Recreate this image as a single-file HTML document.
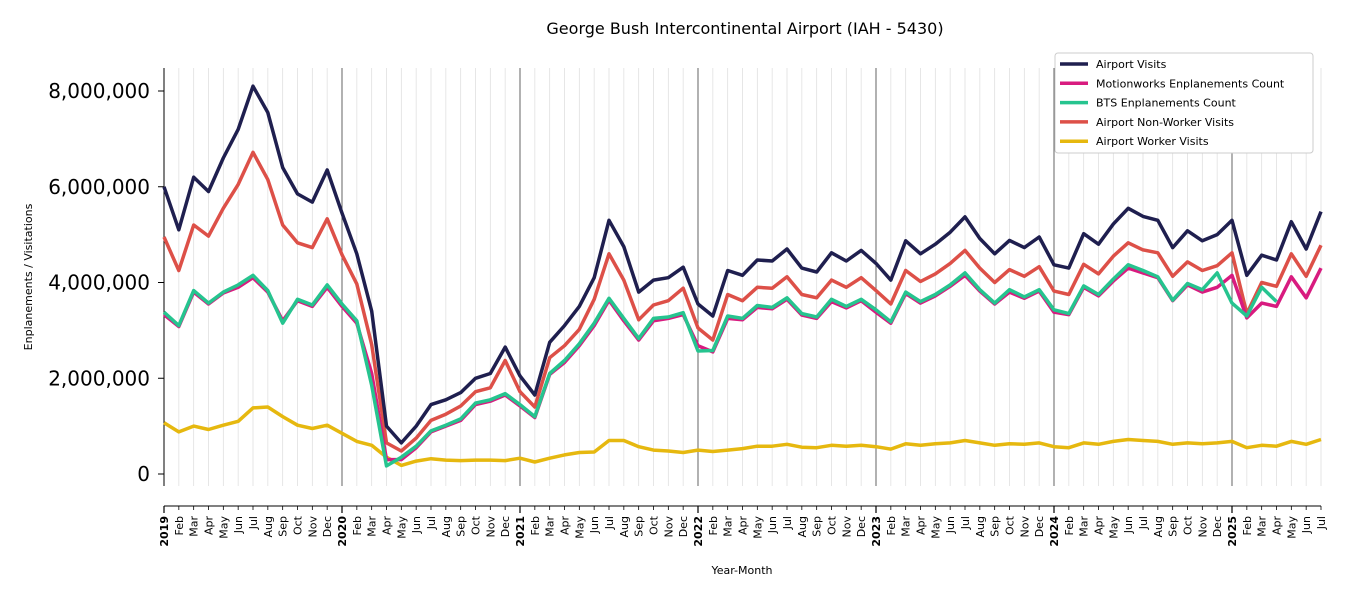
<!DOCTYPE html>
<html><head><meta charset="utf-8"><style>
html,body{margin:0;padding:0;background:#fff;}
svg{display:block;font-family:"DejaVu Sans","Liberation Sans",sans-serif;}
</style></head><body>
<svg id="chart" width="1350" height="600" viewBox="0 0 1350 600">
<text x="745" y="34" text-anchor="middle" font-size="16" fill="#000">George Bush Intercontinental Airport (IAH - 5430)</text>
<g id="grid"></g>
<g id="yaxis"></g>
<g id="xaxis"></g>
<g id="series"></g>
<text transform="translate(32,277) rotate(-90)" text-anchor="middle" font-size="11">Enplanements / Visitations</text>
<text x="742" y="574" text-anchor="middle" font-size="11">Year-Month</text>
<g id="legend"></g>
</svg>
<script>
const monthNames=["Jan","Feb","Mar","Apr","May","Jun","Jul","Aug","Sep","Oct","Nov","Dec"];
const yTicks=[0,2000000,4000000,6000000,8000000];
const yTickLabels=["0","2,000,000","4,000,000","6,000,000","8,000,000"];
const airportVisits=[6.0,5.1,6.2,5.9,6.6,7.2,8.1,7.55,6.4,5.85,5.68,6.35,
5.45,4.6,3.4,1.0,0.65,1.0,1.45,1.55,1.7,2.0,2.1,2.65,
2.05,1.65,2.75,3.1,3.5,4.1,5.3,4.75,3.8,4.05,4.1,4.32,
3.55,3.3,4.25,4.15,4.47,4.45,4.7,4.3,4.22,4.62,4.45,4.67,
4.4,4.05,4.87,4.6,4.8,5.05,5.37,4.92,4.6,4.88,4.73,4.95,
4.37,4.3,5.02,4.8,5.22,5.55,5.38,5.3,4.73,5.08,4.87,5.0,
5.3,4.15,4.57,4.47,5.27,4.7,5.48];
const nonWorker=[4.95,4.25,5.2,4.97,5.55,6.05,6.72,6.15,5.2,4.83,4.73,5.33,
4.58,3.97,2.7,0.65,0.48,0.75,1.12,1.25,1.42,1.72,1.8,2.37,
1.72,1.4,2.43,2.68,3.02,3.65,4.6,4.05,3.22,3.53,3.62,3.88,
3.05,2.8,3.75,3.62,3.9,3.88,4.12,3.75,3.68,4.05,3.9,4.1,
3.83,3.55,4.25,4.02,4.18,4.4,4.67,4.3,4.0,4.27,4.13,4.33,
3.82,3.75,4.38,4.18,4.55,4.83,4.68,4.62,4.13,4.43,4.25,4.35,
4.62,3.35,4.0,3.92,4.6,4.13,4.78];
const bts=[3.38,3.1,3.83,3.57,3.8,3.95,4.15,3.83,3.15,3.65,3.53,3.95,
3.55,3.2,1.85,0.17,0.35,0.58,0.9,1.02,1.15,1.48,1.55,1.68,
1.45,1.2,2.1,2.37,2.72,3.15,3.67,3.25,2.83,3.25,3.28,3.37,
2.57,2.58,3.3,3.25,3.52,3.48,3.68,3.35,3.28,3.65,3.5,3.65,
3.43,3.18,3.8,3.6,3.75,3.95,4.2,3.85,3.57,3.85,3.7,3.85,
3.43,3.35,3.93,3.75,4.07,4.37,4.25,4.12,3.63,3.98,3.85,4.2,
3.57,3.3,3.9,3.6];
const motionworks=[3.33,3.08,3.8,3.55,3.78,3.9,4.1,3.8,3.2,3.62,3.5,3.9,
3.5,3.15,2.1,0.3,0.3,0.55,0.88,1.0,1.12,1.45,1.52,1.65,
1.42,1.18,2.08,2.33,2.68,3.1,3.63,3.2,2.8,3.2,3.25,3.33,
2.68,2.55,3.25,3.22,3.48,3.45,3.65,3.32,3.25,3.6,3.47,3.62,
3.38,3.15,3.77,3.57,3.72,3.92,4.15,3.82,3.55,3.8,3.67,3.82,
3.38,3.33,3.9,3.72,4.03,4.3,4.2,4.1,3.62,3.95,3.8,3.9,
4.15,3.26,3.57,3.5,4.12,3.68,4.3];
const worker=[1.07,0.88,1.0,0.93,1.02,1.1,1.38,1.4,1.2,1.02,0.95,1.02,
0.85,0.68,0.6,0.35,0.18,0.27,0.32,0.29,0.28,0.29,0.29,0.28,
0.33,0.25,0.33,0.4,0.45,0.46,0.7,0.7,0.57,0.5,0.48,0.45,
0.5,0.47,0.5,0.53,0.58,0.58,0.62,0.56,0.55,0.6,0.58,0.6,
0.57,0.52,0.63,0.6,0.63,0.65,0.7,0.65,0.6,0.63,0.62,0.65,
0.57,0.55,0.65,0.62,0.68,0.72,0.7,0.68,0.62,0.65,0.63,0.65,
0.68,0.55,0.6,0.58,0.68,0.62,0.72];
const seriesNames=["Airport Visits","Motionworks Enplanements Count","BTS Enplanements Count","Airport Non-Worker Visits","Airport Worker Visits"];

const NS="http://www.w3.org/2000/svg";
const N=79, X0=164, X1=1321, Y0=474, YPM=47.875;
const xs=i=>X0+(X1-X0)*i/(N-1);
const ys=v=>Y0-v/1e6*YPM;
function mk(tag,attrs,parent){const e=document.createElementNS(NS,tag);for(const k in attrs)e.setAttribute(k,attrs[k]);parent.appendChild(e);return e;}
const grid=document.getElementById('grid'),xa=document.getElementById('xaxis'),ya=document.getElementById('yaxis'),sg=document.getElementById('series'),lg=document.getElementById('legend');
for(let i=0;i<N;i++){
  const x=xs(i),jan=i%12===0;
  const g=mk('line',{x1:x,x2:x,y1:68,y2:486,stroke:jan?'#222':'#e0e0e0','stroke-width':jan?0.7:0.8},grid);
  
  
  const t=mk('line',{x1:x,x2:x,y1:506,y2:jan?513:510,stroke:'#000','stroke-width':jan?1.2:0.8},xa);
  
  
  const lbl=jan?String(2019+i/12):monthNames[i%12];
  const tx=mk('text',{transform:`translate(${x+4},516) rotate(-90)`,'text-anchor':'end','font-size':11,'font-weight':jan?'bold':'normal'},xa);
  tx.textContent=lbl;
  
  
}
const xl=mk('line',{x1:X0,x2:X1,y1:506,y2:506,stroke:'#000','stroke-width':1},xa);


const yl=mk('line',{x1:X0,x2:X0,y1:68,y2:486,stroke:'#000','stroke-width':1},ya);


yTicks.forEach((v,k)=>{
  const y=ys(v);
  const t=mk('line',{x1:X0-6,x2:X0,y1:y,y2:y,stroke:'#000','stroke-width':1},ya);
  
  
  const tx=mk('text',{x:X0-14,y:y+7,'text-anchor':'end','font-size':20},ya);
  tx.textContent=yTickLabels[k];
  
  
});
const defs=[[worker,'#e6b80f','airport-worker-visits-line'],[nonWorker,'#dd5048','airport-non-worker-visits-line'],[motionworks,'#d81b7f','motionworks-enplanements-line'],[bts,'#26c48f','bts-enplanements-line'],[airportVisits,'#1f1f4f','airport-visits-line']];
defs.forEach(([arr,c,name])=>{
  const pts=arr.map((v,i)=>xs(i).toFixed(1)+','+ys(v*1e6).toFixed(1)).join(' ');
  const p=mk('polyline',{points:pts,fill:'none',stroke:c,'stroke-width':3.5,'stroke-linejoin':'round'},sg);
  
  
});
const box=mk('rect',{x:1055,y:53,width:258,height:100,fill:'#fff',stroke:'#ccc',rx:3},lg);


const lcols=['#1f1f4f','#d81b7f','#26c48f','#dd5048','#e6b80f'];
seriesNames.forEach((n,k)=>{
  const y=64+k*19.3;
  const ln=mk('line',{x1:1060,x2:1088,y1:y,y2:y,stroke:lcols[k],'stroke-width':3.5},lg);
  
  
  const t=mk('text',{x:1096,y:y+4,'font-size':11},lg);
  t.textContent=n;
  
  
});
</script>
</body></html>
